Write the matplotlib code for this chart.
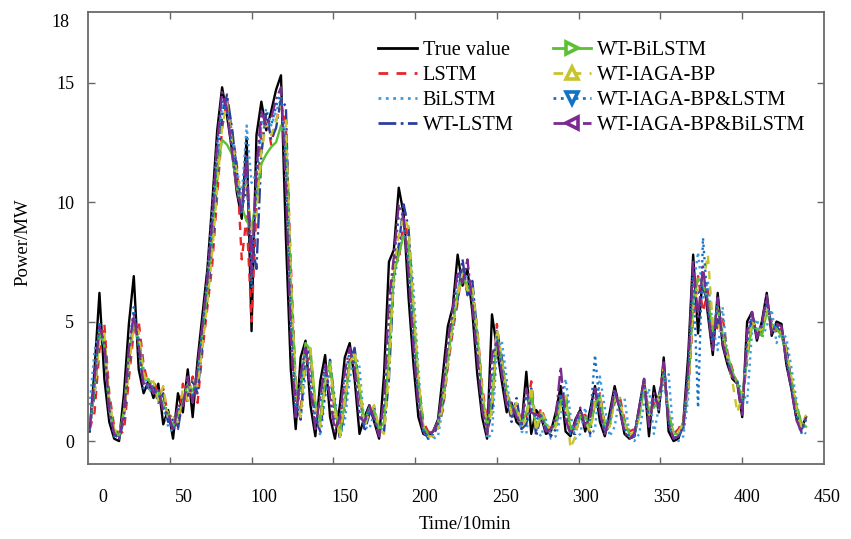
"""
Wind power forecasts of several models against the measured value.
"""

import numpy as np
import matplotlib
matplotlib.use('Agg')
import matplotlib.pyplot as plt
from matplotlib.lines import Line2D

plt.rcParams['font.family'] = ['Liberation Serif', 'DejaVu Serif']

# Time index (10 min steps), one reading every 3 steps
time = np.arange(1, 440, 3)

true_value = [
    0.4, 3.0, 6.2, 2.6, 0.8, 0.1, 0.0, 2.0, 4.9, 6.9,
    3.0, 2.0, 2.5, 1.8, 2.4, 0.7, 1.3, 0.1, 2.0, 1.2,
    3.0, 1.0, 3.4, 5.3, 7.2, 10.0, 13.0, 14.8, 13.6, 12.2,
    10.4, 9.3, 12.7, 4.6, 12.8, 14.2, 13.0, 13.8, 14.7, 15.3,
    8.5, 3.0, 0.5, 3.5, 4.2, 1.5, 0.2, 2.5, 3.6, 1.0,
    0.1, 1.5, 3.5, 4.1, 2.6, 0.3, 1.0, 1.5, 0.8, 0.1,
    2.8, 7.5, 8.0, 10.6, 9.5, 6.0, 3.2, 1.0, 0.3, 0.2,
    0.4, 0.9, 2.8, 4.8, 5.6, 7.8, 6.5, 7.2, 5.4, 2.8,
    1.0, 0.1, 5.3, 3.9, 2.5, 1.2, 1.6, 0.8, 0.6, 2.9,
    0.3, 1.3, 1.0, 0.3, 0.4, 1.2, 2.3, 0.4, 0.2, 0.9,
    1.3, 0.4, 1.3, 2.3, 0.8, 0.2, 1.2, 2.3, 1.4, 0.3,
    0.1, 0.2, 1.4, 2.6, 0.2, 2.3, 1.2, 3.5, 0.4, 0.0,
    0.1, 0.8, 3.6, 7.8, 4.5, 7.0, 5.3, 3.6, 6.2, 4.0,
    3.2, 2.6, 2.4, 1.0, 5.0, 5.4, 4.2, 5.0, 6.2, 4.4,
    5.0, 4.9, 3.2, 2.2, 1.0, 0.5, 1.0]

lstm = [
    0.5, 1.2, 3.8, 4.9, 2.0, 0.6, 0.3, 0.4, 2.6, 4.6,
    5.0, 3.2, 2.3, 2.6, 1.9, 2.2, 1.0, 1.1, 0.6, 2.4,
    1.6, 2.7, 1.6, 3.8, 5.6, 7.4, 10.3, 13.1, 14.3, 13.0,
    11.6, 7.6, 9.4, 5.0, 9.8, 12.9, 13.6, 12.4, 13.4, 14.1,
    13.2, 7.4, 2.4, 1.4, 3.3, 3.5, 1.3, 0.9, 2.6, 3.0,
    1.1, 0.6, 1.9, 3.4, 3.6, 2.0, 0.7, 1.3, 1.2, 0.6,
    0.7, 3.4, 7.8, 7.5, 9.3, 8.4, 5.1, 2.5, 0.8, 0.4,
    0.3, 0.6, 1.3, 3.1, 4.6, 5.8, 7.3, 6.2, 6.4, 4.7,
    2.3, 0.8, 1.4, 4.9, 3.2, 2.1, 1.3, 1.5, 0.8, 1.0,
    2.5, 0.6, 1.4, 0.8, 0.5, 0.7, 1.6, 2.0, 0.6, 0.6,
    1.0, 1.1, 0.6, 1.6, 2.0, 0.7, 0.8, 1.6, 1.9, 0.9,
    0.4, 0.5, 1.1, 2.3, 1.0, 1.6, 1.6, 3.2, 1.1, 0.3,
    0.5, 0.9, 2.1, 5.2, 6.9, 5.4, 6.3, 4.3, 4.8, 5.2,
    3.7, 3.0, 2.4, 1.6, 3.4, 5.0, 4.6, 4.5, 5.5, 5.0,
    4.6, 4.7, 3.7, 2.6, 1.5, 0.8, 0.9]

bilstm = [
    1.5, 3.8, 4.6, 4.2, 1.8, 0.3, 0.2, 1.2, 3.6, 4.8,
    4.3, 3.0, 2.1, 2.2, 1.9, 1.4, 0.6, 0.4, 0.9, 1.6,
    2.2, 2.0, 2.9, 4.6, 6.9, 9.6, 12.4, 14.0, 14.2, 12.9,
    11.4, 10.2, 13.2, 10.8, 11.2, 13.2, 13.9, 13.2, 13.8, 14.3,
    12.1, 6.8, 2.2, 0.9, 2.8, 3.6, 1.6, 0.2, 1.8, 3.0,
    1.8, 0.2, 0.8, 2.6, 3.7, 3.1, 0.6, 0.5, 1.2, 0.4,
    0.6, 3.4, 6.6, 7.9, 8.8, 8.6, 6.4, 3.0, 0.4, 0.1,
    0.1, 0.2, 1.4, 3.2, 4.6, 6.3, 7.2, 6.8, 6.6, 4.3,
    1.8, 0.1, 0.3, 3.8, 4.2, 2.6, 1.0, 1.3, 0.4, 0.3,
    2.1, 0.5, 0.2, 0.9, 0.1, 0.2, 1.0, 2.6, 1.1, 0.1,
    0.3, 1.4, 0.2, 0.5, 2.7, 1.4, 0.2, 0.6, 1.8, 1.8,
    0.3, 0.0, 0.3, 1.6, 2.2, 0.3, 1.4, 2.4, 2.8, 0.2,
    0.0, 0.2, 1.8, 6.4, 7.9, 6.0, 6.7, 4.8, 3.8, 5.6,
    3.5, 2.7, 2.5, 2.1, 1.6, 4.6, 5.1, 4.3, 4.8, 5.5,
    4.1, 4.6, 4.3, 3.1, 1.8, 0.5, 0.3]

wt_lstm = [
    0.6, 1.9, 4.4, 4.2, 1.5, 0.3, 0.1, 0.9, 3.3, 5.2,
    4.4, 2.4, 2.2, 2.3, 1.6, 2.0, 0.8, 0.9, 0.5, 1.8,
    1.9, 2.5, 2.0, 4.1, 6.0, 8.2, 11.0, 13.6, 14.5, 13.1,
    11.3, 9.7, 10.6, 8.4, 7.2, 12.0, 13.8, 12.6, 13.1, 14.3,
    14.0, 6.2, 1.7, 0.9, 3.6, 3.8, 1.0, 0.4, 2.2, 3.4,
    1.5, 0.1, 1.4, 3.3, 3.9, 2.1, 0.4, 1.1, 1.4, 0.3,
    0.4, 2.6, 6.9, 8.2, 9.9, 8.9, 5.2, 2.2, 0.5, 0.1,
    0.2, 0.7, 1.6, 3.4, 5.1, 5.9, 7.6, 6.1, 6.7, 4.5,
    1.9, 0.4, 1.2, 4.6, 3.5, 1.9, 0.8, 1.8, 0.5, 0.7,
    2.2, 0.2, 1.1, 0.6, 0.2, 0.5, 1.8, 1.6, 0.3, 0.3,
    1.1, 0.9, 0.3, 1.8, 1.6, 0.4, 0.6, 2.0, 1.6, 0.6,
    0.1, 0.2, 1.2, 2.4, 1.2, 1.5, 1.9, 2.9, 0.9, 0.1,
    0.2, 0.6, 2.4, 6.1, 6.2, 6.4, 5.8, 4.2, 5.1, 4.6,
    3.4, 2.8, 2.5, 1.4, 3.9, 5.2, 4.4, 4.6, 5.8, 4.7,
    4.8, 4.5, 3.9, 2.4, 1.2, 0.5, 0.7]

wt_bilstm = [
    0.5, 2.2, 4.6, 4.0, 1.4, 0.4, 0.2, 1.3, 3.6, 5.0,
    4.1, 2.6, 2.6, 2.0, 2.1, 1.5, 1.2, 0.6, 1.1, 1.6,
    2.4, 2.1, 2.6, 4.6, 6.3, 8.6, 11.4, 12.6, 12.4, 12.0,
    10.6, 9.8, 9.2, 8.9, 10.2, 11.6, 12.0, 12.3, 12.5, 13.2,
    12.6, 6.6, 2.2, 2.1, 4.1, 3.8, 1.6, 0.8, 2.6, 3.3,
    1.4, 0.3, 1.6, 3.3, 3.6, 2.2, 0.8, 1.4, 1.3, 0.5,
    0.8, 3.6, 7.0, 7.8, 8.6, 8.2, 5.4, 2.4, 0.6, 0.3,
    0.4, 0.8, 1.8, 3.5, 4.9, 6.2, 6.9, 6.5, 6.1, 4.4,
    2.0, 0.6, 1.8, 4.4, 3.3, 2.0, 1.4, 1.3, 0.7, 1.2,
    2.0, 0.6, 1.0, 0.7, 0.5, 0.7, 1.7, 1.8, 0.5, 0.5,
    1.0, 1.0, 0.6, 1.5, 1.9, 0.6, 0.7, 1.8, 1.6, 0.8,
    0.3, 0.3, 1.0, 2.2, 1.3, 1.4, 1.7, 2.8, 1.2, 0.3,
    0.3, 0.8, 2.5, 5.8, 6.8, 6.6, 5.9, 4.6, 5.6, 4.5,
    3.6, 2.9, 2.4, 1.8, 3.6, 4.8, 4.7, 4.4, 5.4, 4.9,
    4.7, 4.4, 3.6, 2.5, 1.5, 0.8, 0.6]

wt_iaga_bp = [
    0.7, 2.0, 4.2, 4.5, 1.7, 0.5, 0.3, 1.0, 3.1, 4.8,
    4.6, 2.8, 2.4, 2.5, 1.7, 2.3, 0.9, 1.0, 0.8, 2.2,
    1.7, 2.6, 2.3, 4.0, 5.8, 7.9, 10.6, 13.2, 14.1, 12.5,
    11.2, 10.1, 10.8, 8.6, 9.6, 12.1, 13.3, 12.8, 13.4, 14.0,
    13.4, 7.0, 1.9, 1.0, 3.5, 3.9, 1.4, 0.6, 2.4, 3.1,
    1.3, 0.1, 1.7, 3.1, 3.8, 2.3, 0.6, 1.2, 1.5, 0.5,
    0.3, 2.8, 7.2, 8.6, 9.4, 8.9, 5.7, 2.6, 0.6, 0.2,
    0.2, 0.5, 1.5, 3.3, 5.0, 6.1, 7.0, 6.3, 6.5, 4.6,
    2.1, 0.5, 1.3, 4.7, 3.4, 2.0, 1.1, 1.6, 0.6, 0.9,
    2.3, 0.4, 1.2, 0.9, 0.3, 0.6, 1.5, 1.9, -0.3, 0.2,
    1.2, 0.8, 0.4, 1.7, 1.8, 0.5, 0.6, 1.7, 1.8, 0.7,
    0.2, 0.4, 1.0, 2.5, 1.1, 1.5, 1.8, 3.0, 1.0, 0.2,
    0.4, 0.7, 2.2, 5.6, 6.4, 6.6, 7.8, 4.9, 5.0, 4.3,
    3.5, 2.5, 1.2, 1.9, 3.7, 5.1, 4.5, 4.7, 5.6, 4.8,
    4.5, 4.6, 3.8, 2.7, 1.3, 0.6, 1.1]

wt_iaga_bp_lstm = [
    0.4, 2.4, 5.0, 3.9, 1.2, 0.2, 0.1, 1.1, 3.8, 5.6,
    3.8, 2.2, 2.4, 2.1, 2.0, 1.4, 1.1, 0.5, 1.3, 1.5,
    2.6, 1.8, 2.9, 4.8, 6.6, 9.0, 12.0, 14.2, 13.8, 12.4,
    10.9, 9.5, 11.8, 6.4, 10.8, 13.4, 13.4, 13.2, 14.0, 14.6,
    11.8, 5.2, 1.1, 2.3, 3.9, 2.6, 0.8, 1.6, 3.0, 2.1,
    0.6, 0.8, 2.5, 3.8, 3.2, 1.2, 0.7, 1.4, 1.0, 0.3,
    1.5, 5.2, 7.6, 9.4, 9.2, 7.4, 4.3, 1.8, 0.4, 0.2,
    0.3, 0.7, 2.1, 4.0, 5.3, 6.9, 6.8, 6.8, 5.9, 3.8,
    1.5, 0.3, 2.8, 4.4, 3.0, 1.7, 1.5, 1.1, 0.6, 1.9,
    1.4, 0.9, 1.1, 0.5, 0.4, 0.9, 2.0, 1.1, 0.3, 0.6,
    1.2, 0.7, 0.9, 3.6, 1.4, 0.4, 0.9, 2.1, 1.5, 0.5,
    0.2, 0.2, 1.3, 2.5, 0.8, 1.8, 1.5, 3.1, 0.8, 0.1,
    0.2, 0.5, 2.9, 7.2, 1.4, 8.5, 5.6, 3.9, 5.8, 4.2,
    3.4, 2.7, 2.5, 1.3, 4.2, 5.3, 4.4, 4.8, 6.0, 4.6,
    4.9, 4.7, 3.4, 2.3, 1.1, 0.3, 0.9]

wt_iaga_bp_bilstm = [
    0.5, 2.6, 4.8, 4.1, 1.3, 0.3, 0.1, 1.2, 3.9, 5.3,
    4.0, 2.3, 2.5, 2.0, 2.2, 1.2, 1.2, 0.4, 1.5, 1.4,
    2.7, 1.6, 3.1, 4.9, 6.8, 9.3, 12.5, 14.6, 13.9, 12.1,
    10.6, 9.6, 11.9, 7.0, 11.4, 13.8, 13.2, 13.5, 14.3, 14.8,
    10.6, 4.4, 1.0, 2.8, 3.9, 2.2, 0.5, 1.9, 3.2, 1.8,
    0.4, 1.0, 2.9, 3.9, 3.0, 1.0, 0.8, 1.5, 0.9, 0.2,
    1.8, 5.9, 7.7, 9.9, 9.3, 7.0, 3.9, 1.5, 0.4, 0.3,
    0.4, 0.8, 2.3, 4.2, 5.5, 7.1, 6.6, 7.6, 5.7, 3.5,
    1.3, 0.3, 3.6, 4.2, 2.8, 1.5, 1.6, 1.0, 0.7, 2.2,
    1.2, 1.1, 1.0, 0.4, 0.5, 1.0, 3.1, 0.9, 0.3, 0.8,
    1.4, 0.6, 1.0, 2.2, 1.2, 0.3, 1.0, 2.2, 1.3, 0.4,
    0.1, 0.3, 1.4, 2.6, 0.6, 2.0, 1.4, 3.3, 0.7, 0.1,
    0.2, 0.6, 3.1, 7.5, 5.2, 7.3, 5.5, 3.8, 6.0, 4.1,
    3.3, 2.7, 2.4, 1.1, 4.6, 5.4, 4.3, 4.9, 6.1, 4.5,
    4.9, 4.8, 3.3, 2.2, 0.9, 0.4, 1.0]

labels = ['True value', 'LSTM', 'BiLSTM', 'WT-LSTM',
          'WT-BiLSTM', 'WT-IAGA-BP', 'WT-IAGA-BP&LSTM', 'WT-IAGA-BP&BiLSTM']
xtick_labels = ['0', '50', '100', '150', '200', '250', '300', '350', '400', '450']
ytick_labels = ['0', '5', '10', '15', '18']

# (color, linestyle, legend marker)
styles = [('black', '-', None),
          ('#e8262a', (0, (3.5, 3)), None),
          ('#3d9be0', ':', None),
          ('#2c3f9e', '-.', None),
          ('#5cc032', '-', '>'),
          ('#c9c42c', (0, (3.5, 3)), '^'),
          ('#1272c4', ':', 'v'),
          ('#7b2b8f', '-.', '<')]


def main():
    """Draw the figure."""

    all_series = [true_value, lstm, bilstm, wt_lstm, wt_bilstm,
                  wt_iaga_bp, wt_iaga_bp_lstm, wt_iaga_bp_bilstm]

    fig = plt.figure(figsize=(8.51, 5.39), dpi=100)
    ax = fig.add_axes([88 / 851, 1 - 464 / 539, 736 / 851, 452 / 539])

    for series, (color, ls, marker) in zip(all_series, styles):
        ax.plot(time, series, color=color, linestyle=ls, linewidth=1.7)

    ax.set_xlim(0, 450)
    ax.set_ylim(-0.96, 17.95)

    # tick marks sit at 50..400, the printed labels are shifted in the original
    ax.set_xticks(np.arange(50, 401, 50))
    ax.set_xticklabels([])
    ax.set_yticks([0, 5, 10, 15])
    ax.set_yticklabels(ytick_labels[:4])
    ax.tick_params(direction='in', length=5, width=1.0, color='#666666',
                   top=True, right=True, labelsize=13, pad=10)
    for spine in ax.spines.values():
        spine.set_color('#6a6a6a')
        spine.set_linewidth(1.3)

    for k, lab in enumerate(xtick_labels):
        ax.text(9.2 + 49.2 * k, -0.055, lab, transform=ax.get_xaxis_transform(),
                ha='center', va='top', fontsize=13)
    ax.text(-0.025, 17.5, ytick_labels[4], transform=ax.get_yaxis_transform(),
            ha='right', va='center', fontsize=13)

    ax.set_xlabel('Time/10min', fontsize=13.5)
    ax.xaxis.set_label_coords(0.512, -0.115)
    ax.set_ylabel('Power/MW', fontsize=13.5)
    ax.yaxis.set_label_coords(-0.077, 0.49)

    handles = []
    for color, ls, marker in styles:
        handles.append(Line2D([], [], color=color, linestyle=ls, linewidth=2,
                              marker=marker, markersize=9, markerfacecolor='white',
                              markeredgewidth=2.6))
    ax.legend(handles, labels, ncol=2, frameon=False, loc='upper left',
              bbox_to_anchor=(0.394, 0.937), fontsize=14.7, handlelength=1.9,
              handletextpad=0.3, columnspacing=1.9, labelspacing=0.28,
              borderpad=0, borderaxespad=0)

    plt.savefig('out.png', dpi=100)


if __name__ == '__main__':
    main()
